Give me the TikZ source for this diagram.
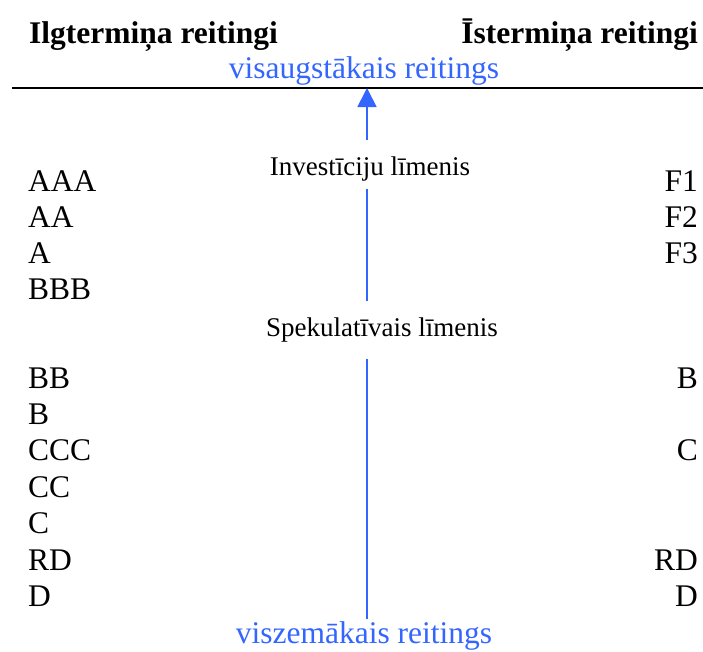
\documentclass[tikz,border=0pt]{standalone}
\usepackage{fontspec}
\setmainfont{Liberation Serif}
\usetikzlibrary{arrows.meta}
\definecolor{rateblue}{RGB}{51,102,255}

\begin{document}
\begin{tikzpicture}[x=1pt, y=-1pt,
    grade/.style={inner sep=0pt, font=\fontsize{31.5}{36}\selectfont},
    head/.style={inner sep=0pt, font=\fontsize{31.5}{36}\selectfont\bfseries},
    level/.style={inner sep=0pt, font=\fontsize{27}{32}\selectfont},
    extreme/.style={inner sep=0pt, text=rateblue, font=\fontsize{31.5}{36}\selectfont},
    scaleline/.style={rateblue, line width=1.7pt}]
  \useasboundingbox (0,0) rectangle (703,651);
  % Headings
  \node[head, anchor=base west] (longterm) at (29,43) {Ilgtermiņa reitingi};
  \node[head, anchor=base east] (shortterm) at (698,43) {Īstermiņa reitingi};
  \node[extreme, anchor=base] (highest) at (364,78) {visaugstākais reitings};
  \coordinate (ruleL) at (12,88);
  \coordinate (ruleR) at (703,88);
  \coordinate (tip) at (367,88);
  \draw[line width=2.6pt] (ruleL) -- (ruleR);
  % Long-term grades
  \foreach \g/\y in {AAA/191, AA/227, A/263, BBB/299, BB/388, B/424, CCC/460, CC/497, C/533, RD/570, D/606} {
    \node[grade, anchor=base west] (L-\g) at (28,\y) {\g};
  }
  % Short-term grades
  \foreach \g/\y in {F1/191, F2/227, F3/263, B/388, C/460, RD/570, D/606} {
    \node[grade, anchor=base east] (S-\g) at (698,\y) {\g};
  }
  % Levels and scale
  \node[level, anchor=base] (invest) at (370,175) {Investīciju līmenis};
  \node[level, anchor=base] (spec) at (382,336) {Spekulatīvais līmenis};
  \node[extreme, anchor=base] (lowest) at (364,643) {viszemākais reitings};
  \draw[scaleline, -{Triangle[length=19pt, width=19pt]}, shorten <=16pt] (invest.north -| tip) -- (tip);
  \draw[scaleline, shorten <=16.5pt, shorten >=8pt] (spec.north -| tip) -- (invest.south -| tip);
  \draw[scaleline, shorten <=1.5pt, shorten >=17pt] (lowest.north -| tip) -- (spec.south -| tip);
\end{tikzpicture}
\end{document}
